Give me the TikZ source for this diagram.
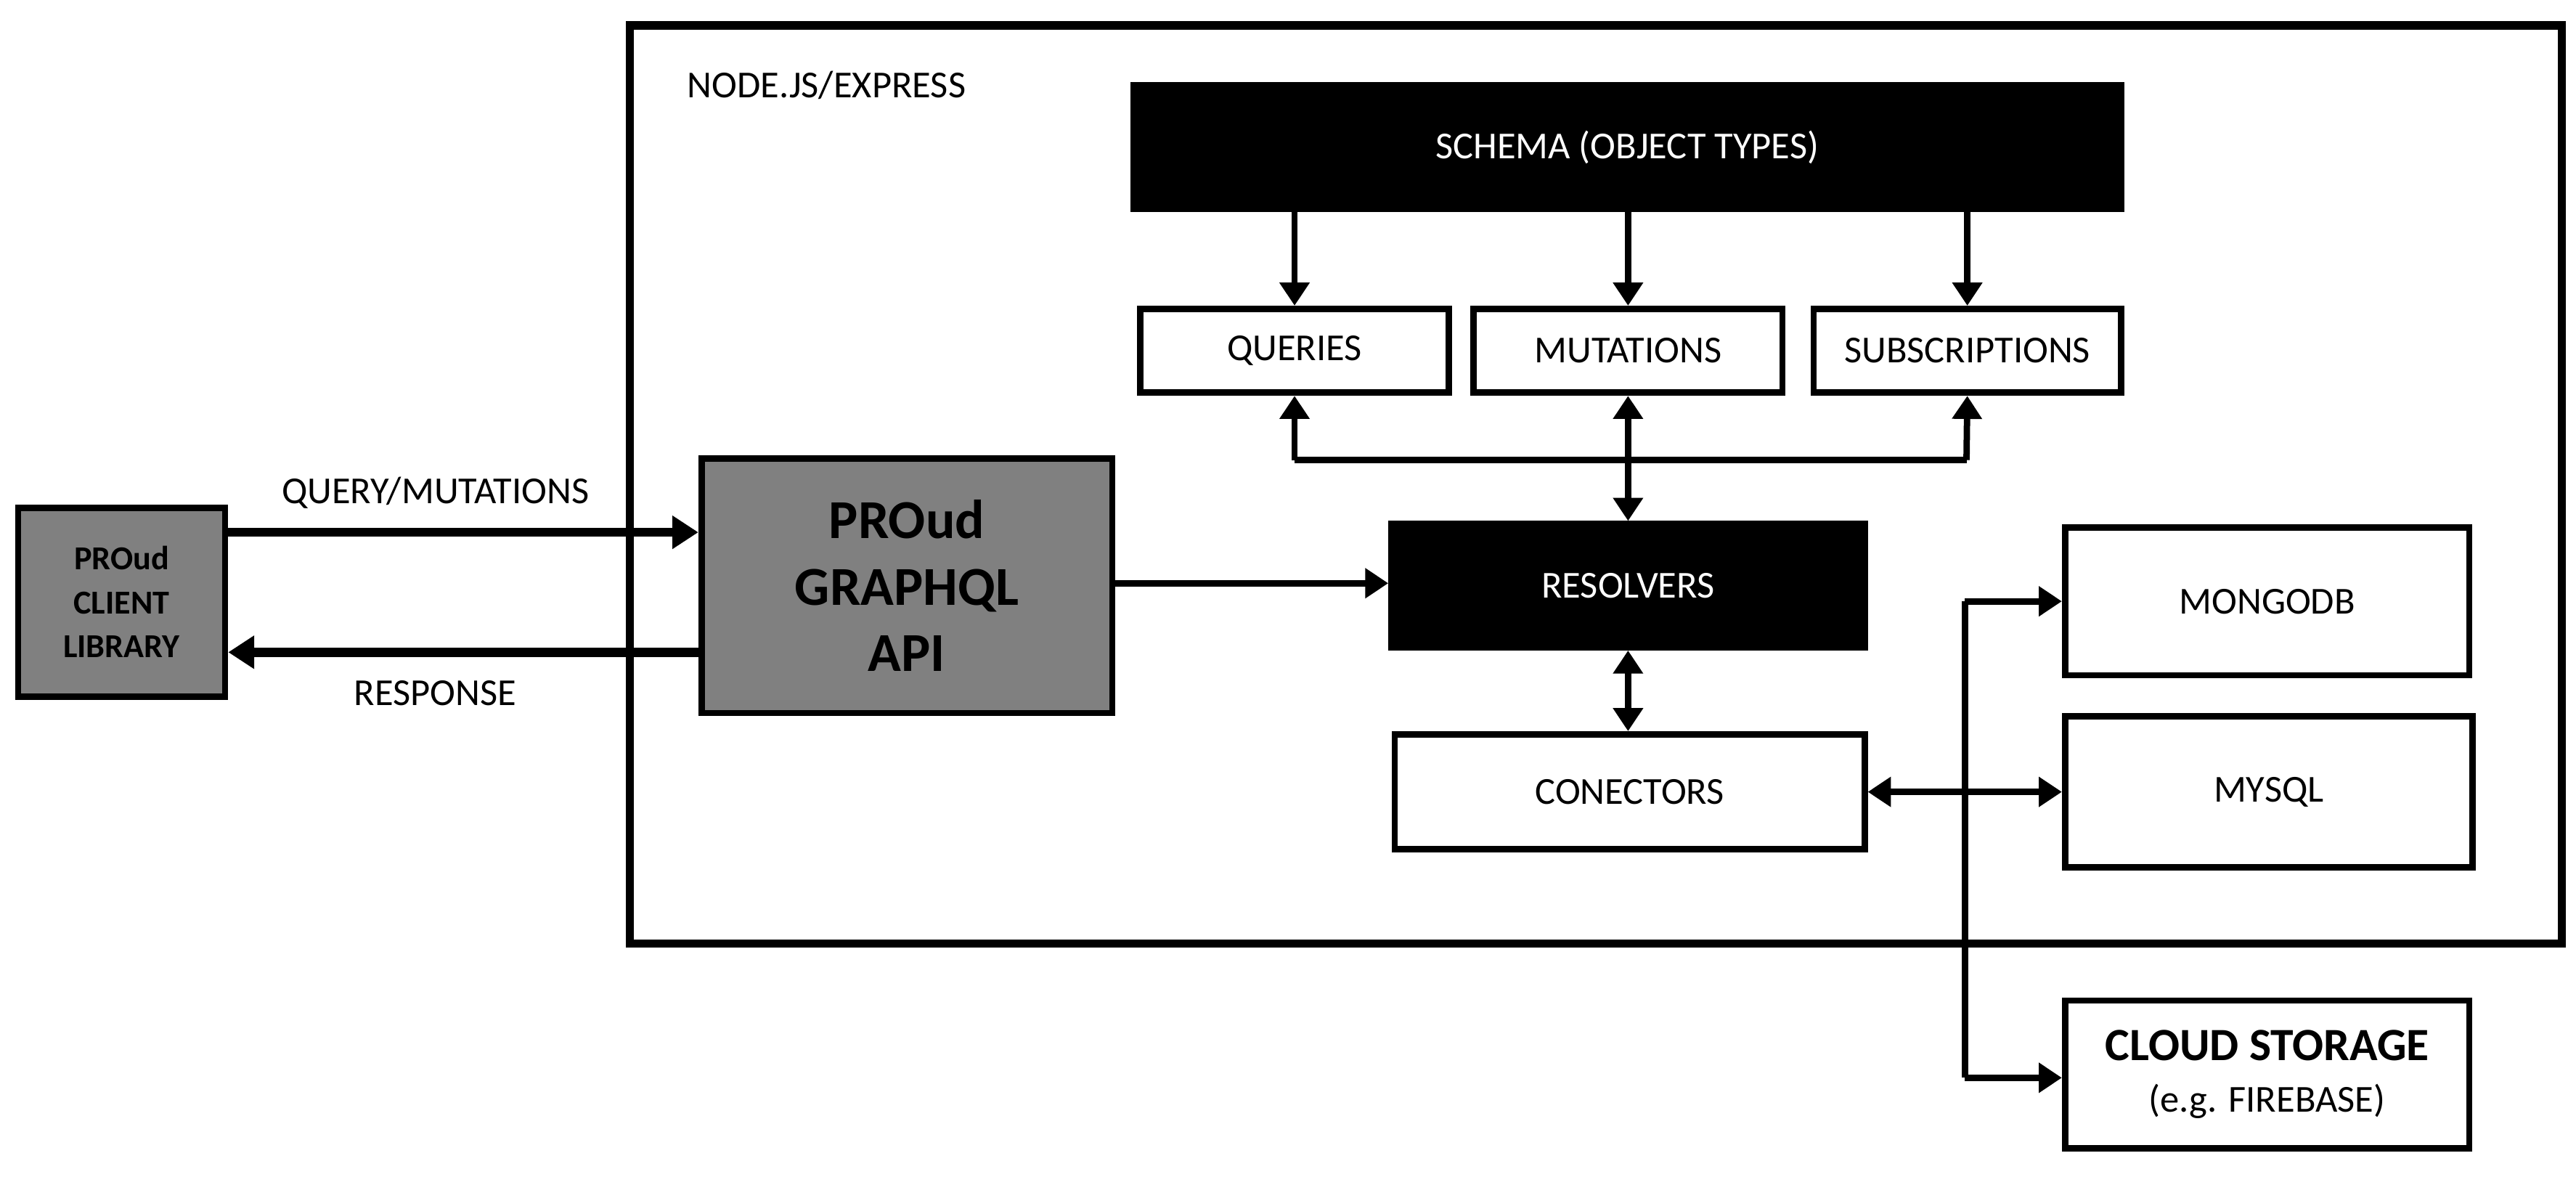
\documentclass[tikz,border=0pt]{standalone}
\usepackage{fontspec}
\setmainfont{Carlito}
\usetikzlibrary{arrows.meta}
\begin{document}
\begin{tikzpicture}[x=0.01cm,y=-0.01cm,
  box/.style={draw=black,line width=1.1pt,inner sep=0pt,font=\fontsize{6.6}{8}\selectfont},
  sz/.style 2 args={minimum width=#1*0.01cm,minimum height=#2*0.01cm},
  blk/.style={box,fill=black,text=white},
  gry/.style={box,fill=black!50},
  ar/.style={line width=1.1pt,-{Triangle[length=4pt,width=5pt]}},
  tar/.style={line width=1.6pt,-{Triangle[length=4.5pt,width=5.5pt]}},
  dar/.style={line width=1.1pt,{Triangle[length=4pt,width=5pt]}-{Triangle[length=4pt,width=5pt]}},
  lbl/.style={font=\fontsize{6.6}{8}\selectfont}]
\useasboundingbox (0,0) rectangle (1568,716);
\node[box,line width=1.4pt,sz={1176}{559},anchor=north west] (outer) at (381,13) {};
\node[lbl,anchor=west] (nj) at (406,52) {NODE.JS/EXPRESS};
\node[blk,sz={601}{75}] (schema) at (990.5,89.5) {SCHEMA (OBJECT TYPES)};
\node[box,sz={188}{51}] (q) at (788,213.5) {QUERIES};
\node[box,sz={188}{51}] (m) at (991,213.5) {MUTATIONS};
\node[box,sz={187}{51}] (s) at (1197.5,213.5) {SUBSCRIPTIONS};
\node[blk,sz={288}{75}] (res) at (991,356.5) {RESOLVERS};
\node[box,sz={286}{70}] (con) at (992,482) {CONECTORS};
\node[box,sz={246}{90}] (mongo) at (1380,366) {MONGODB};
\node[box,sz={248}{92}] (mysql) at (1381,482) {MYSQL};
\node[box,sz={246}{90},align=center] (cloud) at (1380,654) {\textbf{\fontsize{8}{10}\selectfont CLOUD STORAGE}\\[1pt](e.g. FIREBASE)};
\node[gry,sz={250}{155},align=center,font=\bfseries\fontsize{9.5}{11.5}\selectfont] (api) at (552,356.5) {PROud\\GRAPHQL\\API};
\node[gry,sz={126}{115},align=center,font=\bfseries\fontsize{5.8}{7.6}\selectfont] (cli) at (74,366.5) {PROud\\CLIENT\\LIBRARY};
\draw[ar] (schema.south -| q) -- (q.north);
\draw[ar] (schema.south -| m) -- (m.north);
\draw[ar] (schema.south -| s) -- (s.north);
\coordinate (hl) at (788,280);
\coordinate (hr) at (1197,280);
\draw[ar] (hl) -- (q.south);
\draw[ar] (hr) -- (s.south);
\draw[line width=1.1pt] (hl) -- (hr);
\draw[dar] (m.south) -- (res.north -| m);
\draw[dar] (res.south) -- (con.north -| res);
\draw[tar] (cli.east |- 0,324) -- (api.west |- 0,324);
\node[lbl] (ql) at (265,300) {QUERY/MUTATIONS};
\draw[tar] (api.west |- 0,397) -- (cli.east |- 0,397);
\node[lbl] (rl) at (265,422) {RESPONSE};
\draw[ar] (api.east |- 0,355) -- (res.west |- 0,355);
\coordinate (vt) at (1196,366);
\coordinate (vb) at (1196,656);
\draw[line width=1.1pt] (vt) -- (vb);
\draw[ar] (vt) -- (mongo.west |- vt);
\draw[ar] (vb) -- (cloud.west |- vb);
\draw[dar] (con.east) -- (mysql.west);
\end{tikzpicture}
\end{document}
